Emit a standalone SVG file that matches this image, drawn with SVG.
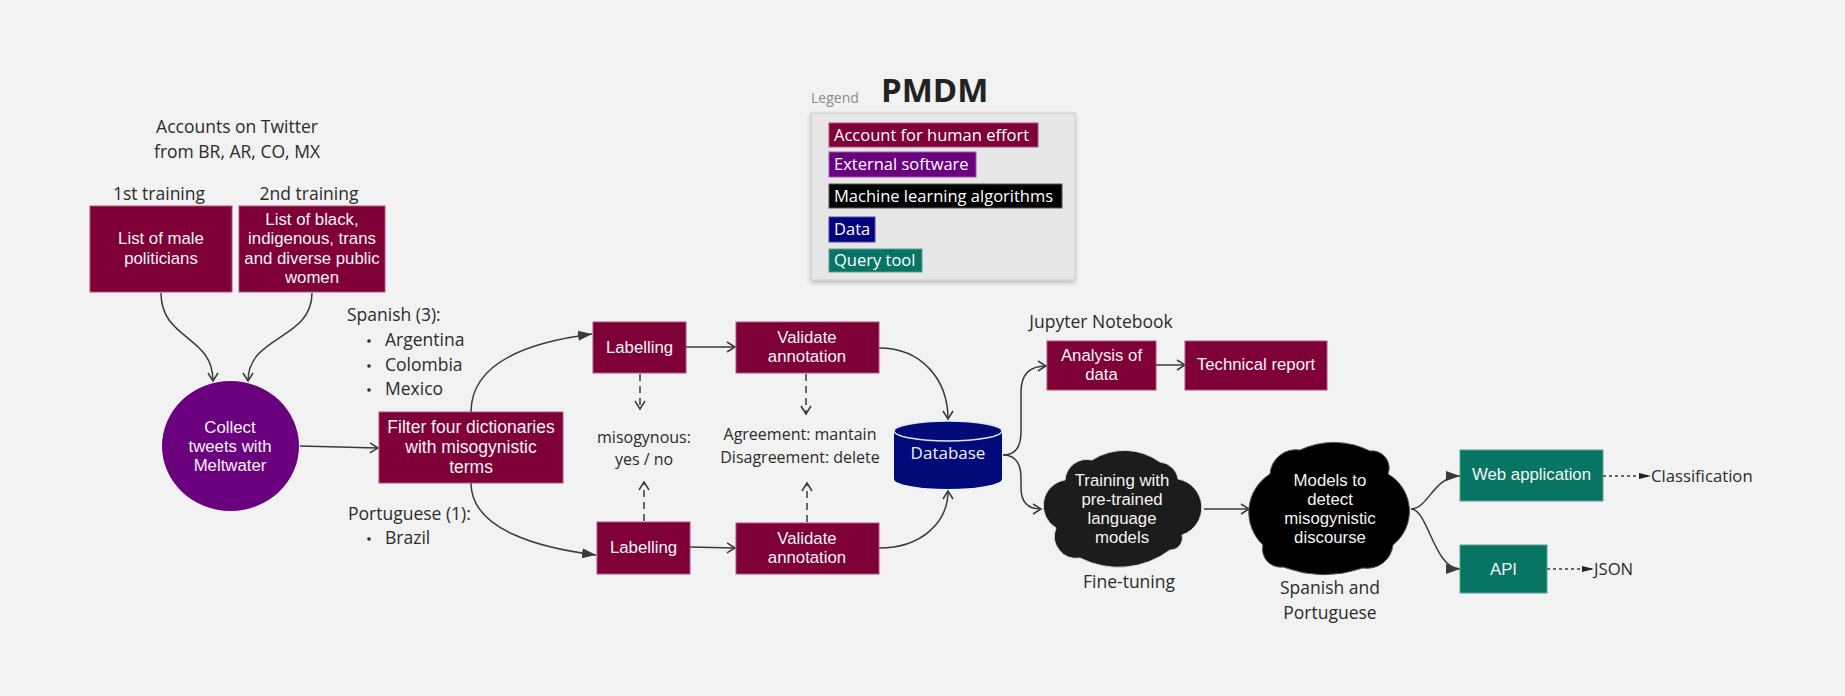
<svg xmlns="http://www.w3.org/2000/svg" width="1845" height="696" viewBox="0 0 1845 696">
<style>
.bg{fill:#f2f2f2}
.hum{fill:#7f0037;stroke:#a8557c;stroke-width:1}
.sw{fill:#6b007f;stroke:#9a5aa8;stroke-width:1}
.ml{fill:#000;stroke:#555;stroke-width:1}
.ml1{fill:#1c1c1c;stroke:#d8d8d8;stroke-width:1}
.db{fill:#000a78}
.qt{fill:#077464;stroke:#5a9e92;stroke-width:1}
.nt{font-family:"Liberation Sans",Arial,sans-serif;font-size:16.8px;fill:#f4f4f4;text-anchor:middle}
.lt{font-family:"Open Sans","Noto Sans",sans-serif;font-size:17.5px;fill:#2b2b2b}
.st{font-family:"Open Sans","Noto Sans",sans-serif;font-size:16px;fill:#2b2b2b;text-anchor:middle}
.gt{font-family:"Open Sans","Noto Sans",sans-serif;font-size:16.5px;fill:#ffffff}
.c{fill:none;stroke:#3a3a3a;stroke-width:1.5}
.d{fill:none;stroke:#3a3a3a;stroke-width:1.5;stroke-dasharray:7 5}
.df{fill:none;stroke:#3a3a3a;stroke-width:1.3;stroke-dasharray:3 3}
</style>
<defs>
<marker id="op" markerUnits="userSpaceOnUse" markerWidth="14" markerHeight="14" refX="10" refY="6" orient="auto">
<path d="M2 1 L10 6 L2 11" fill="none" stroke="#3a3a3a" stroke-width="1.5"/>
</marker>
<marker id="fl" markerUnits="userSpaceOnUse" markerWidth="16" markerHeight="12" refX="14" refY="6" orient="auto">
<path d="M0 1 L14 6 L0 11 Z" fill="#3a3a3a"/>
</marker>
<marker id="fs" markerUnits="userSpaceOnUse" markerWidth="14" markerHeight="10" refX="12" refY="5" orient="auto">
<path d="M0 2 L12 5 L0 8 Z" fill="#222"/>
</marker>
<filter id="sh" x="-10%" y="-10%" width="120%" height="130%">
<feDropShadow dx="0" dy="2" stdDeviation="2" flood-color="#000" flood-opacity="0.25"/>
</filter>
</defs>
<rect class="bg" x="0" y="0" width="1845" height="696"/>

<g id="title">
<text x="881" y="102" font-family="'Open Sans','Noto Sans',sans-serif" font-size="33" font-weight="bold" fill="#222">PMDM</text>
</g>
<g id="legend">
<text x="811" y="103" font-family="'Open Sans','Noto Sans',sans-serif" font-size="14" fill="#8a8a8a">Legend</text>
<rect x="811" y="113" width="264" height="167" fill="#e6e6e6" stroke="#cccccc" stroke-width="1" filter="url(#sh)"/>
<rect class="hum" x="829" y="123" width="209" height="24"/>
<text class="gt" x="834" y="141">Account for human effort</text>
<rect class="sw" x="829" y="152" width="147" height="25"/>
<text class="gt" x="834" y="170">External software</text>
<rect class="ml" x="829" y="184" width="233" height="24"/>
<text class="gt" x="834" y="202">Machine learning algorithms</text>
<rect x="829" y="217" width="46" height="25" fill="#000080" stroke="#4a4aa0" stroke-width="1"/>
<text class="gt" x="834" y="235">Data</text>
<rect class="qt" x="829" y="249" width="93" height="23"/>
<text class="gt" x="834" y="266">Query tool</text>
</g>

<g id="connectors">
<path class="c" d="M161 293 C161 340 213 335 213 381" marker-end="url(#op)"/>
<path class="c" d="M312 293 C312 340 248 335 248 381" marker-end="url(#op)"/>
<path class="c" d="M300 446 L378 448" marker-end="url(#op)"/>
<path class="c" d="M471 412 C471 362 530 342 592 334" marker-end="url(#fl)"/>
<path class="c" d="M471 483 C471 530 540 548 596 555" marker-end="url(#fl)"/>
<path class="c" d="M686 347 L735 347" marker-end="url(#op)"/>
<path class="c" d="M690 547 L735 548" marker-end="url(#op)"/>
<path class="d" d="M640 374 L640 409" marker-end="url(#op)"/>
<path class="d" d="M644 521 L644 482" marker-end="url(#op)"/>
<path class="d" d="M806 374 L806 414" marker-end="url(#op)"/>
<path class="d" d="M807 522 L807 483" marker-end="url(#op)"/>
<path class="c" d="M879 348 C922 348 948 380 948 419" marker-end="url(#op)"/>
<path class="c" d="M879 548 C922 548 948 522 948 491" marker-end="url(#op)"/>
<path class="c" d="M1003 455 Q1021 455 1021 432 L1021 392 Q1021 366 1046 366" marker-end="url(#op)"/>
<path class="c" d="M1003 455 Q1021 455 1021 478 L1021 488 Q1021 509 1041 509" marker-end="url(#op)"/>
<path class="c" d="M1156 365 L1185 365" marker-end="url(#op)"/>
<path class="c" d="M1204 509 L1249 509" marker-end="url(#op)"/>
<path class="c" d="M1411 509 C1428 509 1434 476 1460 476" marker-end="url(#fl)"/>
<path class="c" d="M1411 509 C1428 509 1434 569 1460 569" marker-end="url(#fl)"/>
<path class="df" d="M1603 476 L1651 476" marker-end="url(#fs)"/>
<path class="df" d="M1547 569 L1594 569" marker-end="url(#fs)"/>
</g>

<g id="label-accounts">
<text class="lt" x="237" y="133" text-anchor="middle">Accounts on Twitter</text>
<text class="lt" x="237" y="158" text-anchor="middle">from BR, AR, CO, MX</text>
</g>
<g id="label-1st"><text class="lt" x="159" y="200" text-anchor="middle">1st training</text></g>
<g id="label-2nd"><text class="lt" x="309" y="200" text-anchor="middle">2nd training</text></g>

<g id="node-male">
<rect class="hum" x="90" y="206" width="142" height="86"/>
<text class="nt" x="161" y="244">List of male</text>
<text class="nt" x="161" y="264">politicians</text>
</g>
<g id="node-women">
<rect class="hum" x="239" y="206" width="146" height="86"/>
<text class="nt" x="312" y="225">List of black,</text>
<text class="nt" x="312" y="244">indigenous, trans</text>
<text class="nt" x="312" y="264">and diverse public</text>
<text class="nt" x="312" y="283">women</text>
</g>
<g id="node-collect">
<ellipse cx="230.5" cy="446" rx="68.5" ry="65" fill="#6b007f"/>
<text class="nt" x="230" y="433">Collect</text>
<text class="nt" x="230" y="452">tweets with</text>
<text class="nt" x="230" y="471">Meltwater</text>
</g>
<g id="node-filter">
<rect class="hum" x="379" y="412" width="184" height="71"/>
<text class="nt" x="471" y="433" style="font-size:17.5px">Filter four dictionaries</text>
<text class="nt" x="471" y="453" style="font-size:17.5px">with misogynistic</text>
<text class="nt" x="471" y="473" style="font-size:17.5px">terms</text>
</g>
<g id="label-spanish">
<text class="lt" x="347" y="321">Spanish (3):</text>
<circle cx="369" cy="341" r="1.8" fill="#2b2b2b"/>
<text class="lt" x="385" y="346">Argentina</text>
<circle cx="369" cy="366" r="1.8" fill="#2b2b2b"/>
<text class="lt" x="385" y="371">Colombia</text>
<circle cx="369" cy="390" r="1.8" fill="#2b2b2b"/>
<text class="lt" x="385" y="395">Mexico</text>
</g>
<g id="label-portuguese">
<text class="lt" x="348" y="520">Portuguese (1):</text>
<circle cx="369" cy="539" r="1.8" fill="#2b2b2b"/>
<text class="lt" x="385" y="544">Brazil</text>
</g>

<g id="node-label-top">
<rect class="hum" x="593" y="322" width="93" height="51"/>
<text class="nt" x="639.5" y="353">Labelling</text>
</g>
<g id="node-label-bottom">
<rect class="hum" x="597" y="522" width="93" height="52"/>
<text class="nt" x="643.5" y="553">Labelling</text>
</g>
<g id="label-misogynous">
<text class="st" x="644" y="443">misogynous:</text>
<text class="st" x="644" y="465">yes / no</text>
</g>
<g id="node-validate-top">
<rect class="hum" x="736" y="322" width="143" height="51"/>
<text class="nt" x="807" y="343">Validate</text>
<text class="nt" x="807" y="362">annotation</text>
</g>
<g id="node-validate-bottom">
<rect class="hum" x="736" y="523" width="143" height="51"/>
<text class="nt" x="807" y="544">Validate</text>
<text class="nt" x="807" y="563">annotation</text>
</g>
<g id="label-agreement">
<text class="st" x="800" y="440">Agreement: mantain</text>
<text class="st" x="800" y="463">Disagreement: delete</text>
</g>

<g id="node-database">
<path class="db" d="M894 431 L894 479 A54 10 0 0 0 1002 479 L1002 431 A54 10 0 0 0 894 431 Z"/>
<ellipse cx="948" cy="431" rx="54" ry="10" fill="#000a78" stroke="#e4e4f0" stroke-width="1.5"/>
<text x="948" y="459" text-anchor="middle" font-family="'Open Sans','Noto Sans',sans-serif" font-size="17" fill="#f0f0f0">Database</text>
</g>

<g id="label-jupyter"><text class="lt" x="1101" y="328" text-anchor="middle">Jupyter Notebook</text></g>
<g id="node-analysis">
<rect class="hum" x="1047" y="341" width="109" height="49"/>
<text class="nt" x="1101.5" y="361">Analysis of</text>
<text class="nt" x="1101.5" y="380">data</text>
</g>
<g id="node-report">
<rect class="hum" x="1185" y="341" width="142" height="49"/>
<text class="nt" x="1256" y="370">Technical report</text>
</g>

<g id="node-training">
<path class="ml1" d="M1065 480 A22 22 0 0 1 1092 460 A60 60 0 0 1 1160 462 A20 20 0 0 1 1178 479 A29 29 0 0 1 1182 535 A12 12 0 0 1 1170 550 A85 85 0 0 1 1080 558 A22 22 0 0 1 1056 528 A26 26 0 0 1 1065 480 Z"/>
<text class="nt" x="1122" y="486">Training with</text>
<text class="nt" x="1122" y="505">pre-trained</text>
<text class="nt" x="1122" y="524">language</text>
<text class="nt" x="1122" y="543">models</text>
</g>
<g id="label-finetuning"><text class="lt" x="1129" y="588" text-anchor="middle">Fine-tuning</text></g>

<g id="node-models">
<path class="ml" d="M1270 474 A26 26 0 0 1 1300 450 A80 80 0 0 1 1370 451 A17 17 0 0 1 1388 474 A43 43 0 0 1 1393 545 A26 26 0 0 1 1363 568 A118 118 0 0 1 1283 567 A18 18 0 0 1 1263 545 A45 45 0 0 1 1270 474 Z"/>
<text class="nt" x="1330" y="486">Models to</text>
<text class="nt" x="1330" y="505">detect</text>
<text class="nt" x="1330" y="524">misogynistic</text>
<text class="nt" x="1330" y="543">discourse</text>
</g>
<g id="label-spanish-portuguese">
<text class="lt" x="1330" y="594" text-anchor="middle">Spanish and</text>
<text class="lt" x="1330" y="619" text-anchor="middle">Portuguese</text>
</g>

<g id="node-webapp">
<rect class="qt" x="1460" y="450" width="143" height="51"/>
<text class="nt" x="1531.5" y="480">Web application</text>
</g>
<g id="node-api">
<rect class="qt" x="1460" y="545" width="87" height="48"/>
<text class="nt" x="1503.5" y="575">API</text>
</g>
<g id="label-classification"><text class="lt" x="1651" y="482" style="font-size:16.7px">Classification</text></g>
<g id="label-json"><text class="lt" x="1594" y="575" style="font-size:16.7px">JSON</text></g>
</svg>
